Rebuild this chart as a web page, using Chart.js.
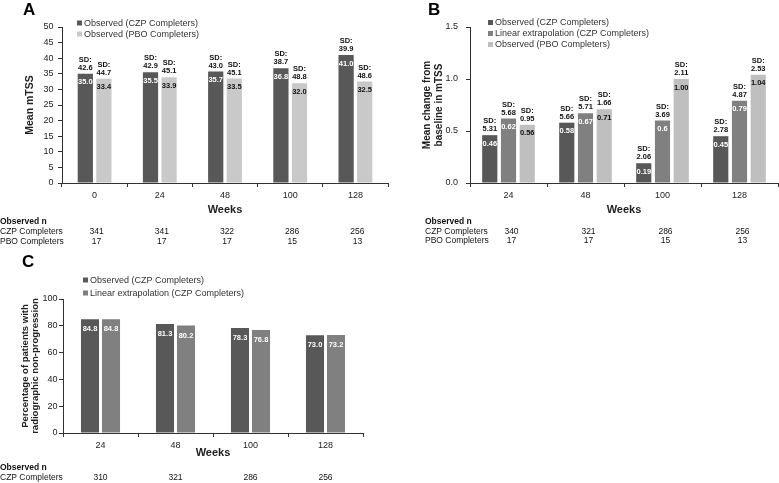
<!DOCTYPE html>
<html lang="en">
<head>
<meta charset="UTF-8">
<title>mTSS and radiographic non-progression by week</title>
<script src="https://cdn.jsdelivr.net/npm/chart.js"></script>
<style>
  body { margin: 0; background: #fff; }
  canvas { position: absolute; }
  #chartA { left: 0; top: 0; }
  #chartB { left: 390px; top: 0; }
  #chartC { left: 0; top: 250px; }
</style>
</head>
<body>
<canvas id="chartA" width="390" height="250"></canvas>
<canvas id="chartB" width="389" height="250"></canvas>
<canvas id="chartC" width="390" height="233"></canvas>
<script>
// ---- panel A: mean mTSS ----
const weeksA = ['0', '24', '48', '100', '128'];
const czpMeanA = [35.0, 35.5, 35.7, 36.8, 41.0];
const czpSdA = [42.6, 42.9, 43.0, 38.7, 39.9];
const pboMeanA = [33.4, 33.9, 33.5, 32.0, 32.5];
const pboSdA = [44.7, 45.1, 45.1, 48.8, 48.6];
const czpNA = [341, 341, 322, 286, 256];
const pboNA = [17, 17, 17, 15, 13];

// ---- panel B: mean change from baseline ----
const weeksB = ['24', '48', '100', '128'];
const czpObsB = [0.46, 0.58, 0.19, 0.45];
const czpObsSdB = ['5.31', '5.66', '2.06', '2.78'];
const czpLinB = [0.62, 0.67, 0.6, 0.79];
const czpLinSdB = ['5.68', '5.71', '3.69', '4.87'];
const pboObsB = [0.56, 0.71, 1.00, 1.04];
const pboObsSdB = ['0.95', '1.66', '2.11', '2.53'];
const czpObsTxtB = ['0.46', '0.58', '0.19', '0.45'];
const czpLinTxtB = ['0.62', '0.67', '0.6', '0.79'];
const pboObsTxtB = ['0.56', '0.71', '1.00', '1.04'];
const czpNB = [340, 321, 286, 256];
const pboNB = [17, 17, 15, 13];

// ---- panel C: % radiographic non-progression ----
const weeksC = ['24', '48', '100', '128'];
const czpObsC = [84.8, 81.3, 78.3, 73.0];
const czpLinC = [84.8, 80.2, 76.8, 73.2];
const czpNC = [310, 321, 286, 256];

Chart.defaults.font.family = '"Liberation Sans", Arial, sans-serif';
Chart.defaults.color = '#222';

const INK = '#222';
const AXIS = '#333';
const DARK = '#585858';
const MID = '#808080';
const LIGHT_A = '#c9c9c9';
const LIGHT_B = '#bfbfbf';

// draws bar values, SD notes, legend, panel letter and the "Observed n" table
const panelText = {
    id: 'panelText',
    afterDatasetsDraw(chart, args, o) {
        const ctx = chart.ctx;
        const xs = chart.scales.x;
        ctx.save();
        ctx.textAlign = 'center';
        ctx.textBaseline = 'middle';
        ctx.font = 'bold 7.5px "Liberation Sans"';

        chart.data.datasets.forEach((ds, di) => {
            chart.getDatasetMeta(di).data.forEach((bar, i) => {
                ctx.fillStyle = ds.labelColor;
                ctx.fillText(ds.valueLabels[i], bar.x, bar.y + o.inset);
                if (ds.sdLabels) {
                    ctx.fillStyle = '#111';
                    ctx.fillText('SD:', bar.x, bar.y - 14);
                    ctx.fillText(ds.sdLabels[i], bar.x, bar.y - 6);
                }
            });
        });

        // legend
        ctx.textAlign = 'left';
        ctx.font = '9px "Liberation Sans"';
        chart.data.datasets.forEach((ds, di) => {
            const y = o.legendY[di];
            ctx.fillStyle = ds.backgroundColor;
            ctx.fillRect(o.legendX, y - 2.5, 5, 5);
            ctx.fillStyle = '#333';
            ctx.fillText(ds.label, o.legendX + 7, y + 0.5);
        });

        // panel letter
        ctx.fillStyle = '#000';
        ctx.font = 'bold 17px "Liberation Sans"';
        ctx.fillText(o.letter, o.letterX, o.letterY);

        // observed n table
        ctx.font = 'bold 8.5px "Liberation Sans"';
        ctx.fillStyle = '#111';
        ctx.fillText('Observed n', o.rowLabelX, o.rowY[0]);
        o.rows.forEach((row, r) => {
            const y = o.rowY[r + 1];
            ctx.font = '8.5px "Liberation Sans"';
            ctx.textAlign = 'left';
            ctx.fillText(row.label, o.rowLabelX, y);
            ctx.textAlign = 'center';
            row.n.forEach((n, i) => {
                ctx.fillText(String(n), xs.getPixelForValue(i) + o.nOffset, y);
            });
        });
        ctx.restore();
    }
};

function fitTo(size) {
    return scale => {
        if (scale.isHorizontal()) scale.height = size;
        else scale.width = size;
    };
}

function makePanel(id, p) {
    return new Chart(document.getElementById(id), {
        type: 'bar',
        data: { labels: p.labels, datasets: p.datasets },
        options: {
            responsive: false,
            animation: false,
            layout: { padding: p.padding },
            datasets: { bar: { categoryPercentage: p.cp, barPercentage: p.bp, borderWidth: 0 } },
            plugins: {
                legend: { display: false },
                tooltip: { enabled: false },
                panelText: p.text
            },
            scales: {
                x: {
                    grid: { display: true, drawOnChartArea: false, offset: true, tickLength: 4, color: AXIS },
                    border: { color: AXIS, width: 1 },
                    ticks: { color: INK, font: { size: 9 }, padding: 3, maxRotation: 0 },
                    title: { display: true, text: 'Weeks', color: INK, font: { size: 11, weight: 'bold' }, padding: 0 },
                    afterFit: fitTo(p.xH)
                },
                y: {
                    min: p.yMin,
                    max: p.yMax,
                    grid: { display: true, drawOnChartArea: false, tickLength: 4, color: AXIS },
                    border: { color: AXIS, width: 1 },
                    ticks: { stepSize: p.step, color: INK, font: { size: 9 }, padding: p.yPad, callback: p.yFmt },
                    title: { display: true, text: p.yTitle, color: INK, font: p.yTitleFont, padding: 0 },
                    afterFit: fitTo(p.yW)
                }
            }
        },
        plugins: [panelText]
    });
}

makePanel('chartA', {
    labels: weeksA,
    datasets: [
        { label: 'Observed (CZP Completers)', data: czpMeanA, backgroundColor: DARK, labelColor: '#fff',
          valueLabels: czpMeanA.map(v => v.toFixed(1)), sdLabels: czpSdA.map(v => v.toFixed(1)) },
        { label: 'Observed (PBO Completers)', data: pboMeanA, backgroundColor: LIGHT_A, labelColor: '#111',
          valueLabels: pboMeanA.map(v => v.toFixed(1)), sdLabels: pboSdA.map(v => v.toFixed(1)) }
    ],
    padding: { left: 24, top: 27, right: 2, bottom: 33 },
    cp: 0.57, bp: 0.82,
    xH: 34, yW: 38, yPad: 4.5,
    yMin: 0, yMax: 50, step: 5, yFmt: v => v,
    yTitle: 'Mean mTSS',
    yTitleFont: { size: 10.5, weight: 'bold' },
    text: {
        letter: 'A', letterX: 23, letterY: 10,
        legendX: 77, legendY: [23, 34],
        inset: 8.5,
        rowLabelX: 0, rowY: [222, 232, 242], nOffset: 2,
        rows: [{ label: 'CZP Completers', n: czpNA }, { label: 'PBO Completers', n: pboNA }]
    }
});

makePanel('chartB', {
    labels: weeksB,
    datasets: [
        { label: 'Observed (CZP Completers)', data: czpObsB, backgroundColor: DARK, labelColor: '#fff',
          valueLabels: czpObsTxtB, sdLabels: czpObsSdB },
        { label: 'Linear extrapolation (CZP Completers)', data: czpLinB, backgroundColor: MID, labelColor: '#fff',
          valueLabels: czpLinTxtB, sdLabels: czpLinSdB },
        { label: 'Observed (PBO Completers)', data: pboObsB, backgroundColor: LIGHT_B, labelColor: '#111',
          valueLabels: pboObsTxtB, sdLabels: pboObsSdB }
    ],
    padding: { left: 31, top: 27, right: 1, bottom: 33 },
    cp: 0.73, bp: 0.81,
    xH: 34, yW: 49, yPad: 8,
    yMin: 0, yMax: 1.5, step: 0.5, yFmt: v => v.toFixed(1),
    yTitle: ['Mean change from', 'baseline in mTSS'],
    yTitleFont: { size: 10, weight: 'bold', lineHeight: 1.2 },
    text: {
        letter: 'B', letterX: 38, letterY: 10,
        legendX: 98, legendY: [22.5, 33.5, 44.5],
        inset: 8.5,
        rowLabelX: 35, rowY: [222, 232, 241], nOffset: 3,
        rows: [{ label: 'CZP Completers', n: czpNB }, { label: 'PBO Completers', n: pboNB }]
    }
});

makePanel('chartC', {
    labels: weeksC,
    datasets: [
        { label: 'Observed (CZP Completers)', data: czpObsC, backgroundColor: DARK, labelColor: '#fff',
          valueLabels: czpObsC.map(v => v.toFixed(1)) },
        { label: 'Linear extrapolation (CZP Completers)', data: czpLinC, backgroundColor: MID, labelColor: '#fff',
          valueLabels: czpLinC.map(v => v.toFixed(1)) }
    ],
    padding: { left: 20, top: 49, right: 27, bottom: 23 },
    cp: 0.56, bp: 0.86,
    xH: 27, yW: 43, yPad: 1.5,
    yMin: 0, yMax: 100, step: 10, yFmt: v => v,
    yTitle: ['Percentage of patients with', 'radiographic non-progression'],
    yTitleFont: { size: 9.5, weight: 'bold', lineHeight: 1.1 },
    text: {
        letter: 'C', letterX: 22, letterY: 12.5,
        legendX: 83, legendY: [30, 43],
        inset: 10,
        rowLabelX: 0, rowY: [218, 228], nOffset: 0,
        rows: [{ label: 'CZP Completers', n: czpNC }]
    }
});
</script>
</body>
</html>
